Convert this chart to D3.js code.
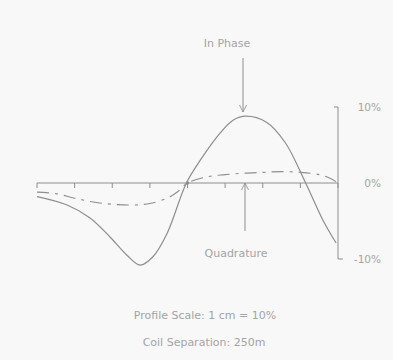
<!DOCTYPE html>
<html>
<head>
<meta charset="utf-8">
<script src="https://cdn.jsdelivr.net/npm/d3@7.9.0/dist/d3.min.js"></script>
<style>
  html, body { margin: 0; padding: 0; background: #f8f8f8; }
  svg { display: block; }
  text { font-family: "DejaVu Sans", sans-serif; fill: #a4a4a4; }
</style>
</head>
<body>
<svg id="chart" width="393" height="360"></svg>
<script>
// station positions (tick units along the profile)
const stations = [0, 1, 2, 3, 4, 5, 6, 7, 8];

// in-phase response, % of primary field
const inPhaseX = [0, 0.8, 1.41, 1.94, 2.39, 2.74, 3.08, 3.46, 3.97, 4.34, 4.87, 5.22, 5.55, 6.1, 6.6, 7.14, 7.6, 7.95];
const inPhaseY = [-1.8, -2.9, -4.6, -7.1, -9.5, -10.8, -9.7, -6.6, 0, 3.0, 6.6, 8.3, 8.8, 8.0, 5.3, 0, -4.9, -7.9];

// quadrature response, %
const quadX = [0, 0.5, 1, 1.5, 2, 2.5, 3, 3.5, 3.75, 4, 4.5, 5, 5.5, 6, 6.5, 7, 7.5, 7.8, 8];
const quadY = [-1.2, -1.4, -2.0, -2.5, -2.8, -2.9, -2.7, -1.9, -1.1, 0, 0.8, 1.1, 1.3, 1.4, 1.5, 1.4, 1.1, 0.6, 0];

const scaleTicks = [10, 0, -10];
const scaleLabels = ['10%', '0%', '-10%'];

const svg = d3.select('#chart');
const ink = '#8e8e8e';

const x = d3.scaleLinear().domain([0, 8]).range([37, 338]);
const y = d3.scaleLinear().domain([-10, 10]).range([259, 107]);

// arrow marker
svg.append('defs').append('marker')
  .attr('id', 'arr')
  .attr('viewBox', '0 0 10 10')
  .attr('refX', 10).attr('refY', 5)
  .attr('markerWidth', 7).attr('markerHeight', 9)
  .attr('markerUnits', 'userSpaceOnUse')
  .attr('orient', 'auto')
  .append('path')
  .attr('d', 'M0,0 L10,5 L0,10')
  .attr('fill', 'none')
  .attr('stroke', ink)
  .attr('stroke-width', 1.2);

// profile baseline with station ticks
const g = svg.append('g');
g.append('line')
  .attr('x1', x(0)).attr('x2', x(8))
  .attr('y1', y(0)).attr('y2', y(0))
  .attr('stroke', ink).attr('stroke-width', 1);
g.selectAll('.tick')
  .data(stations)
  .join('line')
  .attr('x1', d => x(d)).attr('x2', d => x(d))
  .attr('y1', y(0)).attr('y2', y(0) + 5)
  .attr('stroke', ink).attr('stroke-width', 1);

// vertical scale bar on the right
const bx = x(8);
g.append('line')
  .attr('x1', bx).attr('x2', bx)
  .attr('y1', y(10)).attr('y2', y(-10))
  .attr('stroke', ink).attr('stroke-width', 1);
g.append('line')
  .attr('x1', bx - 4).attr('x2', bx)
  .attr('y1', y(10)).attr('y2', y(10))
  .attr('stroke', ink);
g.append('line')
  .attr('x1', bx).attr('x2', bx + 5)
  .attr('y1', y(-10)).attr('y2', y(-10))
  .attr('stroke', ink);
g.selectAll('.lab')
  .data(scaleTicks)
  .join('text')
  .attr('x', 381)
  .attr('y', d => y(d) + 4)
  .attr('text-anchor', 'end')
  .attr('font-size', 10.5)
  .text((d, i) => scaleLabels[i]);

// curves
const line = d3.line()
  .x(d => x(d[0]))
  .y(d => y(d[1]))
  .curve(d3.curveCatmullRom.alpha(0.5));

svg.append('path')
  .datum(d3.zip(inPhaseX, inPhaseY))
  .attr('d', line)
  .attr('fill', 'none')
  .attr('stroke', ink)
  .attr('stroke-width', 1.2);

svg.append('path')
  .datum(d3.zip(quadX, quadY))
  .attr('d', line)
  .attr('fill', 'none')
  .attr('stroke', ink)
  .attr('stroke-width', 1.1)
  .attr('stroke-dasharray', '12,6,3,6');

// annotations
svg.append('line')
  .attr('x1', 243).attr('x2', 243)
  .attr('y1', 58).attr('y2', 112)
  .attr('stroke', ink).attr('stroke-width', 1)
  .attr('marker-end', 'url(#arr)');
svg.append('text')
  .attr('x', 227).attr('y', 47)
  .attr('text-anchor', 'middle')
  .attr('font-size', 11)
  .text('In Phase');

svg.append('line')
  .attr('x1', 245).attr('x2', 245)
  .attr('y1', 231).attr('y2', y(0))
  .attr('stroke', ink).attr('stroke-width', 1)
  .attr('marker-end', 'url(#arr)');
svg.append('circle')
  .attr('cx', x(4)).attr('cy', y(0)).attr('r', 1.8).attr('fill', ink);
svg.append('text')
  .attr('x', 236).attr('y', 257)
  .attr('text-anchor', 'middle')
  .attr('font-size', 11)
  .text('Quadrature');

// notes
svg.append('text')
  .attr('x', 205).attr('y', 319)
  .attr('text-anchor', 'middle')
  .attr('font-size', 11)
  .text('Profile Scale: 1 cm = 10%');
svg.append('text')
  .attr('x', 204).attr('y', 346)
  .attr('text-anchor', 'middle')
  .attr('font-size', 11)
  .text('Coil Separation: 250m');
</script>
</body>
</html>
